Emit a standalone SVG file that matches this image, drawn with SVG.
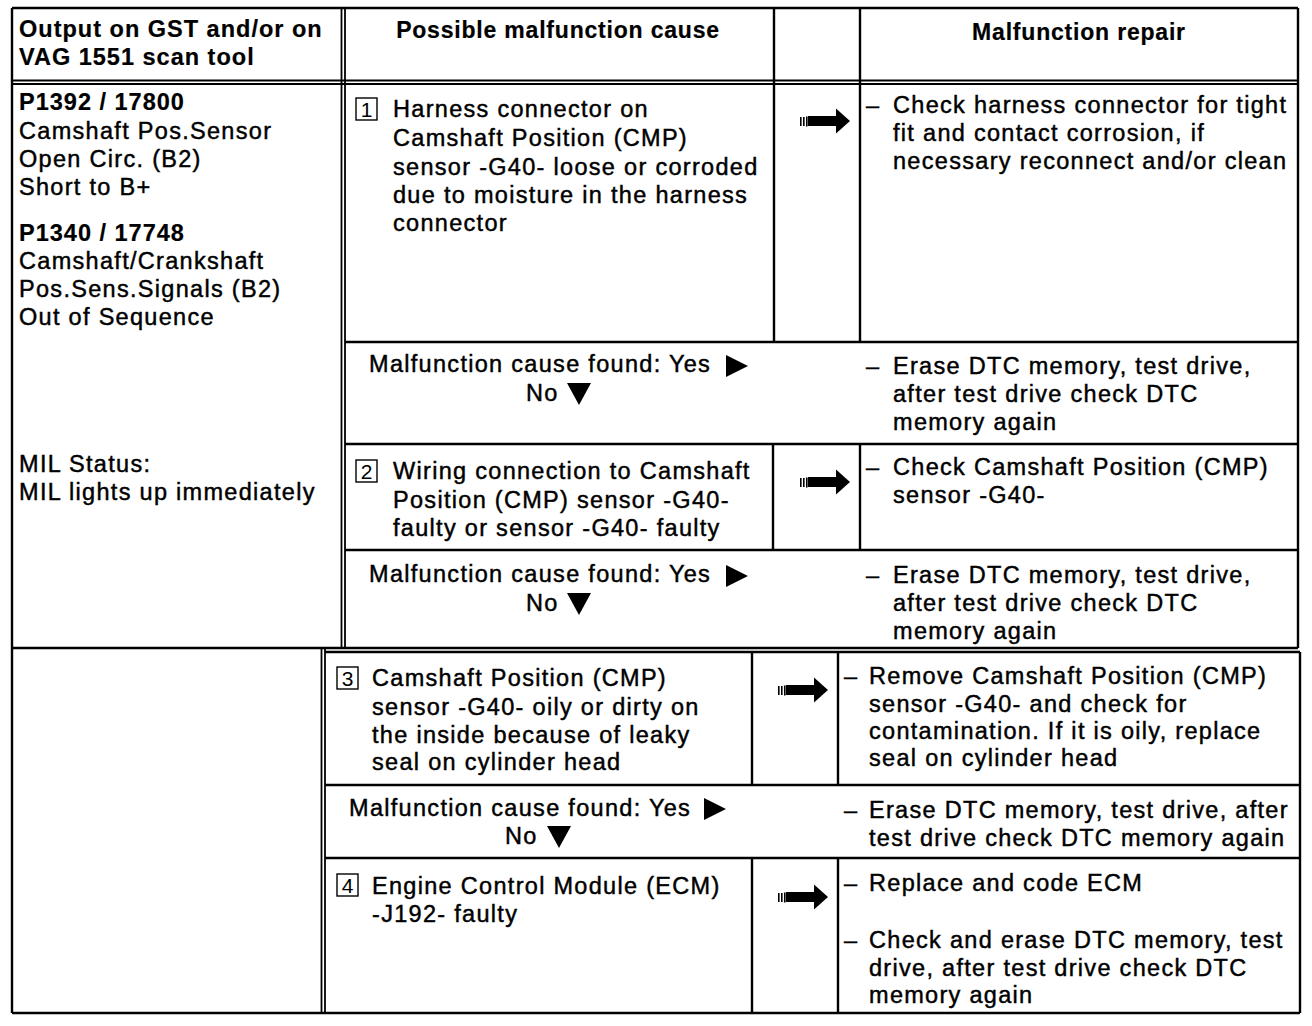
<svg xmlns="http://www.w3.org/2000/svg" width="1312" height="1026" viewBox="0 0 1312 1026">
<style>
.t{font-family:"Liberation Sans",Arial,sans-serif;font-size:23.5px;letter-spacing:1.3px;fill:#000;stroke:#000;stroke-width:0.45px}
.b{font-weight:bold;letter-spacing:1px;stroke-width:0.2px}
.h{font-weight:bold;font-size:23px;letter-spacing:0.8px;stroke-width:0.2px}
.n{font-family:"Liberation Sans",Arial,sans-serif;font-size:21px;fill:#000}
.ln{stroke:#000;stroke-width:2.4;fill:none}
.dl{stroke:#000;stroke-width:1.8;fill:none}
.bx{stroke:#000;stroke-width:1.4;fill:none}
</style>
<defs>
<g id="arr">
<rect x="0" y="-4" width="1.6" height="9"/>
<rect x="3" y="-4" width="1.6" height="9"/>
<rect x="6" y="-4.5" width="1.6" height="10"/>
<rect x="8" y="-5" width="29" height="10"/>
<polygon points="36,-12.5 50,0 36,12.5"/>
</g>
<polygon id="tr" points="0,0 22,11 0,22"/>
<polygon id="td" points="0,0 24,0 12,22"/>
</defs>
<rect width="1312" height="1026" fill="#fff"/>

<g id="grid">
<line class="ln" x1="12" y1="8" x2="1298" y2="8"/>
<line class="ln" x1="12" y1="8" x2="12" y2="648"/>
<line class="ln" x1="1298" y1="8" x2="1298" y2="648"/>
<line class="dl" x1="341.5" y1="8" x2="341.5" y2="648"/>
<line class="dl" x1="345" y1="8" x2="345" y2="648"/>
<line class="dl" x1="12" y1="80.5" x2="1298" y2="80.5"/>
<line class="dl" x1="12" y1="84" x2="1298" y2="84"/>
<line class="ln" x1="774" y1="8" x2="774" y2="342"/>
<line class="ln" x1="860" y1="8" x2="860" y2="342"/>
<line class="ln" x1="345" y1="342" x2="1298" y2="342"/>
<line class="ln" x1="345" y1="444" x2="1298" y2="444"/>
<line class="ln" x1="773" y1="444" x2="773" y2="550"/>
<line class="ln" x1="860" y1="444" x2="860" y2="550"/>
<line class="ln" x1="345" y1="550" x2="1298" y2="550"/>
<line class="ln" x1="12" y1="648" x2="1298" y2="648"/>
<line class="ln" x1="12" y1="648" x2="12" y2="1013"/>
<line class="ln" x1="12" y1="1013" x2="1300" y2="1013"/>
<line class="dl" x1="321.5" y1="648" x2="321.5" y2="1013"/>
<line class="dl" x1="325" y1="648" x2="325" y2="1013"/>
<line class="ln" x1="325" y1="652" x2="1300" y2="652"/>
<line class="ln" x1="1300" y1="652" x2="1300" y2="1013"/>
<line class="ln" x1="752" y1="652" x2="752" y2="785"/>
<line class="ln" x1="838" y1="652" x2="838" y2="785"/>
<line class="ln" x1="325" y1="785" x2="1300" y2="785"/>
<line class="ln" x1="325" y1="858" x2="1300" y2="858"/>
<line class="ln" x1="752" y1="858" x2="752" y2="1013"/>
<line class="ln" x1="838" y1="858" x2="838" y2="1013"/>
</g>

<g id="header">
<text class="t b" x="19" y="37">Output on GST and/or on</text>
<text class="t b" x="19" y="65">VAG 1551 scan tool</text>
<text class="t h" x="558" y="38" text-anchor="middle">Possible malfunction cause</text>
<text class="t h" x="1079" y="40" text-anchor="middle">Malfunction repair</text>
</g>

<g id="output">
<text class="t b" x="19" y="110">P1392 / 17800</text>
<text class="t" x="19" y="139">Camshaft Pos.Sensor</text>
<text class="t" x="19" y="167">Open Circ. (B2)</text>
<text class="t" x="19" y="195">Short to B+</text>
<text class="t b" x="19" y="241">P1340 / 17748</text>
<text class="t" x="19" y="269">Camshaft/Crankshaft</text>
<text class="t" x="19" y="297">Pos.Sens.Signals (B2)</text>
<text class="t" x="19" y="325">Out of Sequence</text>
<text class="t" x="19" y="472">MIL Status:</text>
<text class="t" x="19" y="500">MIL lights up immediately</text>
</g>

<g id="step1">
<rect class="bx" x="356" y="98" width="21" height="22"/>
<text class="n" x="366.5" y="117" text-anchor="middle">1</text>
<text class="t" x="393" y="117">Harness connector on</text>
<text class="t" x="393" y="146">Camshaft Position (CMP)</text>
<text class="t" x="393" y="175">sensor -G40- loose or corroded</text>
<text class="t" x="393" y="203">due to moisture in the harness</text>
<text class="t" x="393" y="231">connector</text>
<use href="#arr" x="800" y="121"/>
<text class="t" x="866" y="113">–</text>
<text class="t" x="893" y="113">Check harness connector for tight</text>
<text class="t" x="893" y="141">fit and contact corrosion, if</text>
<text class="t" x="893" y="169">necessary reconnect and/or clean</text>
</g>

<g id="found1">
<text class="t" x="369" y="372">Malfunction cause found: Yes</text>
<use href="#tr" x="726" y="355"/>
<text class="t" x="526" y="401">No</text>
<use href="#td" x="567" y="383"/>
<text class="t" x="866" y="374">–</text>
<text class="t" x="893" y="374">Erase DTC memory, test drive,</text>
<text class="t" x="893" y="402">after test drive check DTC</text>
<text class="t" x="893" y="430">memory again</text>
</g>

<g id="step2">
<rect class="bx" x="356" y="460" width="21" height="22"/>
<text class="n" x="366.5" y="479" text-anchor="middle">2</text>
<text class="t" x="393" y="479">Wiring connection to Camshaft</text>
<text class="t" x="393" y="508">Position (CMP) sensor -G40-</text>
<text class="t" x="393" y="536">faulty or sensor -G40- faulty</text>
<use href="#arr" x="800" y="482"/>
<text class="t" x="866" y="475">–</text>
<text class="t" x="893" y="475">Check Camshaft Position (CMP)</text>
<text class="t" x="893" y="503">sensor -G40-</text>
</g>

<g id="found2">
<text class="t" x="369" y="582">Malfunction cause found: Yes</text>
<use href="#tr" x="726" y="565"/>
<text class="t" x="526" y="611">No</text>
<use href="#td" x="567" y="593"/>
<text class="t" x="866" y="583">–</text>
<text class="t" x="893" y="583">Erase DTC memory, test drive,</text>
<text class="t" x="893" y="611">after test drive check DTC</text>
<text class="t" x="893" y="639">memory again</text>
</g>

<g id="step3">
<rect class="bx" x="337" y="667" width="21" height="22"/>
<text class="n" x="347.5" y="686" text-anchor="middle">3</text>
<text class="t" x="372" y="686">Camshaft Position (CMP)</text>
<text class="t" x="372" y="715">sensor -G40- oily or dirty on</text>
<text class="t" x="372" y="743">the inside because of leaky</text>
<text class="t" x="372" y="770">seal on cylinder head</text>
<use href="#arr" x="778" y="690"/>
<text class="t" x="844" y="684">–</text>
<text class="t" x="869" y="684">Remove Camshaft Position (CMP)</text>
<text class="t" x="869" y="712">sensor -G40- and check for</text>
<text class="t" x="869" y="739">contamination. If it is oily, replace</text>
<text class="t" x="869" y="766">seal on cylinder head</text>
</g>

<g id="found3">
<text class="t" x="349" y="816">Malfunction cause found: Yes</text>
<use href="#tr" x="704" y="798"/>
<text class="t" x="505" y="844">No</text>
<use href="#td" x="547" y="826"/>
<text class="t" x="844" y="818">–</text>
<text class="t" x="869" y="818">Erase DTC memory, test drive, after</text>
<text class="t" x="869" y="846">test drive check DTC memory again</text>
</g>

<g id="step4">
<rect class="bx" x="337" y="874" width="21" height="22"/>
<text class="n" x="347.5" y="893" text-anchor="middle">4</text>
<text class="t" x="372" y="894">Engine Control Module (ECM)</text>
<text class="t" x="372" y="922">-J192- faulty</text>
<use href="#arr" x="778" y="897"/>
<text class="t" x="844" y="891">–</text>
<text class="t" x="869" y="891">Replace and code ECM</text>
<text class="t" x="844" y="948">–</text>
<text class="t" x="869" y="948">Check and erase DTC memory, test</text>
<text class="t" x="869" y="976">drive, after test drive check DTC</text>
<text class="t" x="869" y="1003">memory again</text>
</g>
</svg>
